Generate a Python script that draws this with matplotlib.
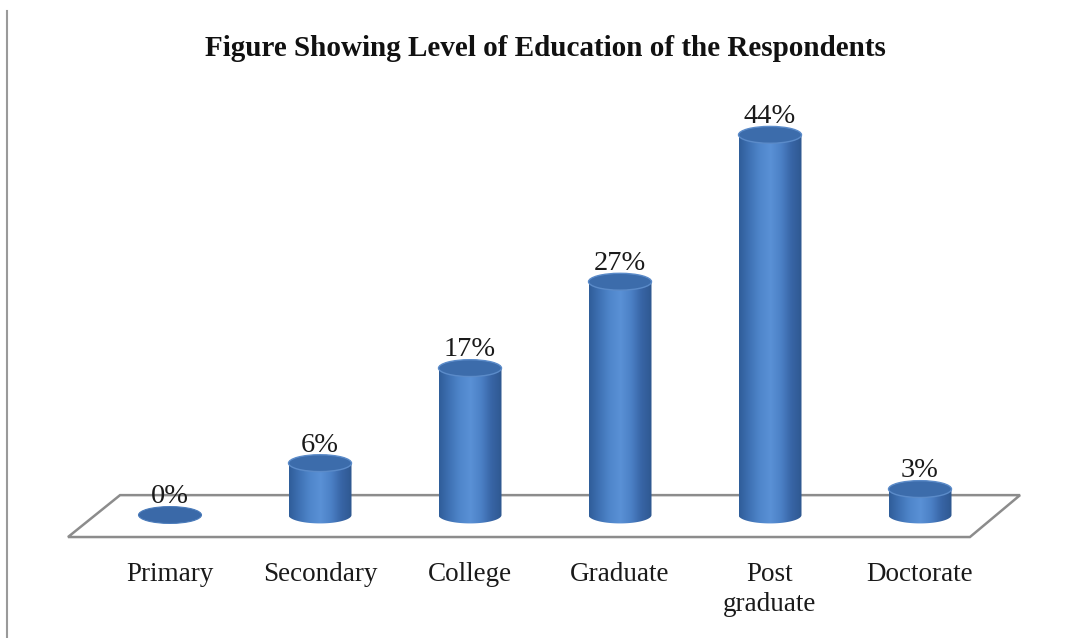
import numpy as np
import matplotlib
matplotlib.use("Agg")
import matplotlib.pyplot as plt
from matplotlib.patches import Ellipse, Polygon, PathPatch
from matplotlib.path import Path
from matplotlib.colors import LinearSegmentedColormap
from matplotlib.lines import Line2D

categories = ["Primary", "Secondary", "College", "Graduate", "Post\ngraduate", "Doctorate"]
values = [0, 6, 17, 27, 44, 3]
value_labels = ["0%", "6%", "17%", "27%", "44%", "3%"]
title = "Figure Showing Level of Education of the Respondents"

W, H = 1073, 638
fig = plt.figure(figsize=(W / 100, H / 100), dpi=100)
ax = fig.add_axes([0, 0, 1, 1])
ax.set_axis_off()
# data units: x = category index, y = percent
ax.set_xlim(-170 / 150, (W - 170) / 150)
ax.set_ylim((515 - H) / 8.64, 515 / 8.64)

serif = ["Liberation Serif", "DejaVu Serif"]

# floor parallelogram
floor = Polygon([(-0.333, 2.3), (5.667, 2.3), (5.333, -2.55), (-0.68, -2.55)],
                closed=True, facecolor="white", edgecolor="#8c8c8c", lw=1.8, zorder=1)
ax.add_patch(floor)

# left border line
fig.add_artist(Line2D([7 / W, 7 / W], [0, 1 - 11 / H], color="#9a9a9a", lw=1.5))

bw = 0.42      # cylinder width (data x)
eh = 1.95      # ellipse height (data y)
cmap = LinearSegmentedColormap.from_list(
    "cyl", ["#2f5d99", "#3f72b4", "#4f86cb", "#5a91d6", "#4c81c6", "#3865a6", "#2e5890"])
grad = np.linspace(0, 1, 256).reshape(1, -1)

t = np.linspace(np.pi, 2 * np.pi, 60)
for i, v in enumerate(values):
    if v > 0:
        xs_bot = i + (bw / 2) * np.cos(t)
        ys_bot = 0 + (eh / 2) * np.sin(t)
        verts = [(i - bw / 2, v), (i - bw / 2, 0)]
        verts += list(zip(xs_bot, ys_bot))
        verts += [(i + bw / 2, 0), (i + bw / 2, v), (i - bw / 2, v)]
        codes = [Path.MOVETO] + [Path.LINETO] * (len(verts) - 2) + [Path.CLOSEPOLY]
        path = Path(verts, codes)
        patch = PathPatch(path, facecolor="none", edgecolor="none", zorder=3)
        ax.add_patch(patch)
        im = ax.imshow(grad, cmap=cmap, aspect="auto", interpolation="bicubic",
                       extent=(i - bw / 2, i + bw / 2, -eh, v), zorder=3)
        im.set_clip_path(patch)
        top = Ellipse((i, v), bw, eh, facecolor="#3c6cab", edgecolor="#5b8bc9", lw=1.0, zorder=4)
    else:
        top = Ellipse((i, v), bw, eh, facecolor="#3a69a8", edgecolor="#4a7bbb", lw=0.8, zorder=4)
    ax.add_patch(top)
    ax.text(i, v + 2.1, value_labels[i], ha="center", va="center",
            fontsize=20.5, family=serif, color="#1a1a1a", zorder=5)
    ax.text(i, -5.45, categories[i], ha="center", va="top", fontsize=19.5,
            family=serif, color="#1a1a1a", linespacing=1.25)

ax.set_xlim(-170 / 150, (W - 170) / 150)
ax.set_ylim((515 - H) / 8.64, 515 / 8.64)

fig.text(545 / W, 1 - 49 / H, title, ha="center", va="center", fontsize=21,
         fontweight="bold", family=serif, color="#111111")

fig.savefig("out.png", dpi=100, facecolor="white")
